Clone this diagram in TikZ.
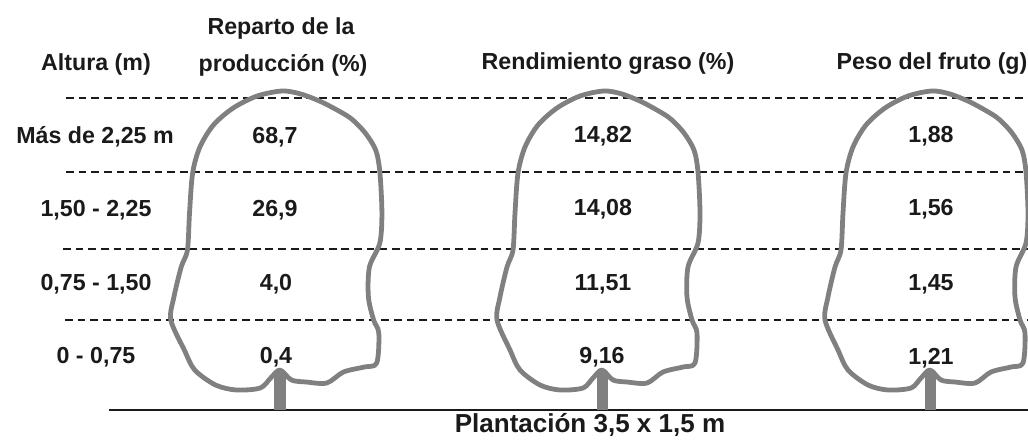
\documentclass[tikz,border=0pt]{standalone}
\usepackage{fontspec}
\setmainfont{Liberation Sans}
\usepackage{tikz}
\usetikzlibrary{positioning}

\definecolor{copa}{HTML}{808080}
\definecolor{tinta}{HTML}{1A1A1A}

\begin{document}
\begin{tikzpicture}[
	x=0.025cm, y=-0.025cm,
	titulo/.style={
		font=\fontsize{16.5}{20}\selectfont\bfseries,
		text=tinta,
		inner sep=0pt
	},
	dato/.style={
		font=\fontsize{16.5}{20}\selectfont\bfseries,
		text=tinta,
		inner sep=1pt
	},
	nivel/.style={
		draw=tinta,
		line width=1.3pt,
		dash pattern=on 5.5pt off 3.5pt
	},
	suelo/.style={
		draw=tinta,
		line width=1pt
	},
	arbol/.pic={
		% copa del olivo
		\draw[copa, line width=3.4pt, line join=round]
			plot[smooth cycle, tension=0.5] coordinates {
				(2,91) (20,94) (40,102) (60,113) (70,120) (82,133) (92,150)
				(96,172) (98,213) (96,243) (86,267) (85,297) (90,320) (95,333)
				(93,363) (81,367) (61,372) (45,383) (25,382) (11,380) (0,370)
				(-9,378) (-19,388) (-42,390) (-62,385) (-82,370) (-92,350)
				(-105,320) (-102,297) (-95,267) (-89,250) (-87,213) (-84,173)
				(-77,147) (-64,125) (-45,108) (-22,96)};
		% tronco
		\fill[copa] (-5.5,371) rectangle (5.5,410);
	}
	]
	\useasboundingbox (0,0) rectangle (1028,440);

	% niveles de altura
	\coordinate (n1i) at (66,98);
	\coordinate (n1d) at (1028,98);
	\coordinate (n2i) at (66,172);
	\coordinate (n2d) at (1028,172);
	\coordinate (n3i) at (63,249);
	\coordinate (n3d) at (1028,249);
	\coordinate (n4i) at (65,320);
	\coordinate (n4d) at (1028,320);

	\draw[nivel] (n1i) -- (n1d);
	\draw[nivel] (n2i) -- (n2d);
	\draw[nivel] (n3i) -- (n3d);
	\draw[nivel] (n4i) -- (n4d);

	% suelo
	\coordinate (s0) at (109,410);
	\coordinate (s1) at (1028,410);
	\draw[suelo] (s0) -- (s1);

	% los tres olivos
	\pic[xscale=1.04] at (280,0) {arbol};
	\pic at (602,0) {arbol};
	\pic at (930,0) {arbol};

	% cabeceras
	\node[titulo] (altura) at (96,65) {Altura (m)};
	\node[titulo] (reparto) at (281,29) {Reparto de la};
	\node[titulo] (produccion) at (283,65) {producción (\%)};
	\node[titulo] (rendimiento) at (608,64) {Rendimiento graso (\%)};
	\node[titulo] (peso) at (932,64) {Peso del fruto (g)};

	% alturas
	\node[dato] (a1) at (95,137) {Más de 2,25 m};
	\node[dato] (a2) at (96,210) {1,50 - 2,25};
	\node[dato] (a3) at (96,284) {0,75 - 1,50};
	\node[dato] (a4) at (96,357) {0 - 0,75};

	% reparto de la produccion
	\node[dato] (p1) at (275,137) {68,7};
	\node[dato] (p2) at (275,210) {26,9};
	\node[dato] (p3) at (276,284) {4,0};
	\node[dato] (p4) at (276,357) {0,4};

	% rendimiento graso
	\node[dato] (g1) at (603,136) {14,82};
	\node[dato] (g2) at (603,209) {14,08};
	\node[dato] (g3) at (603,284) {11,51};
	\node[dato] (g4) at (602,357) {9,16};

	% peso del fruto
	\node[dato] (f1) at (931,136) {1,88};
	\node[dato] (f2) at (931,209) {1,56};
	\node[dato] (f3) at (931,284) {1,45};
	\node[dato] (f4) at (931,358) {1,21};

	\node[titulo, font=\fontsize{18.5}{22}\selectfont\bfseries] (marco) at (590,425)
		{Plantación 3,5 x 1,5 m};
\end{tikzpicture}
\end{document}
